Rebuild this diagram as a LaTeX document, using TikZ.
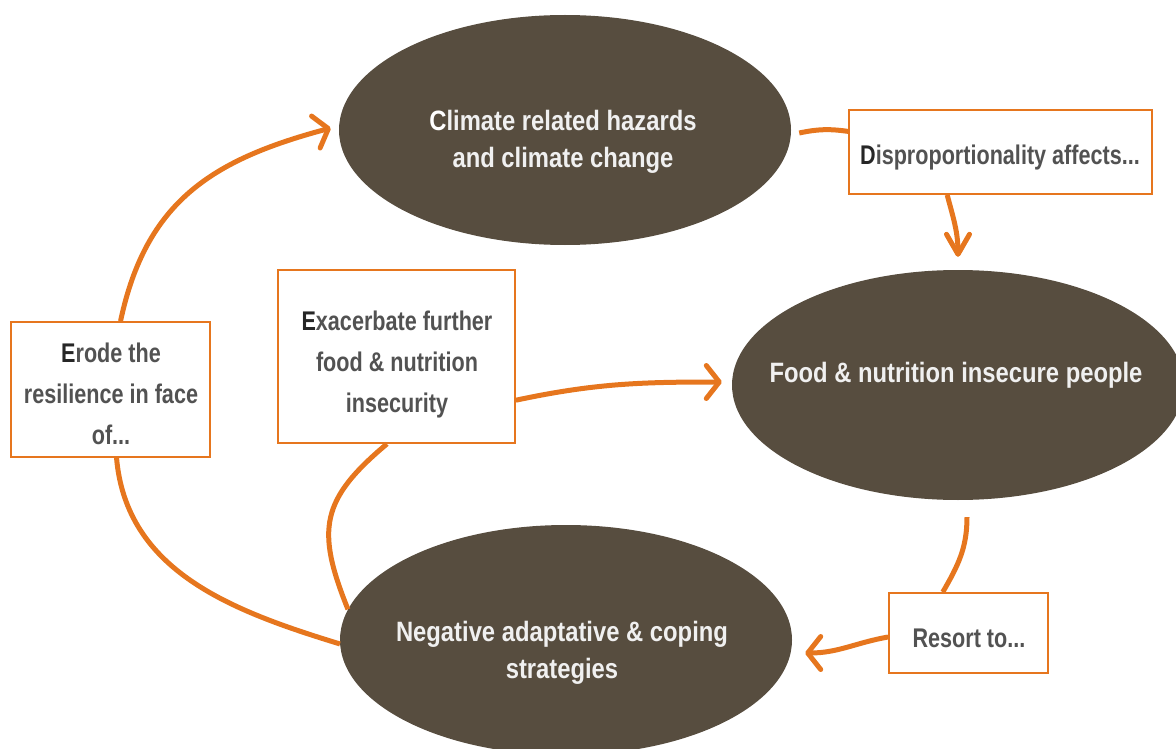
\documentclass[tikz,border=0pt]{standalone}
\usepackage{fontspec}
\setmainfont{Liberation Sans}
\newfontfamily\ovalfont{Liberation Sans}[FakeStretch=0.85]
\newfontfamily\boxfont{Liberation Sans}[FakeStretch=0.8]
\usetikzlibrary{shapes.geometric,arrows.meta,calc}

\definecolor{cycleorange}{RGB}{230,118,30}
\definecolor{earth}{RGB}{87,77,63}
\definecolor{boxtext}{RGB}{82,82,82}
\definecolor{boxinitial}{RGB}{38,38,38}
\definecolor{ovaltext}{RGB}{240,240,240}

\begin{document}
\begin{tikzpicture}[x=1pt,y=1pt,
  oval/.style={ellipse, fill=earth, minimum width=452pt, minimum height=230pt, inner sep=0pt},
  ovallabel/.style={text=ovaltext, font=\ovalfont\bfseries\fontsize{28}{37}\selectfont, align=center, inner sep=0pt},
  labelbox/.style={draw=cycleorange, line width=1.8pt, fill=white, inner sep=0pt},
  boxlabel/.style={text=boxtext, font=\boxfont\bfseries\fontsize{27}{41}\selectfont, align=center, inner sep=0pt},
  flow/.style={draw=cycleorange, line width=5pt},
  flowarrow/.style={flow, -{Straight Barb[length=13pt,width=33pt,round]}},
  droparrow/.style={flow, -{Straight Barb[length=20pt,width=23pt,round]}},
]
\useasboundingbox (0,0) rectangle (1176,-749);
\clip (0,0) rectangle (1176,-749);

% the three stages of the cycle
\node[oval] (climate) at (565,-130) {};
\node[oval] (food) at (958,-385) {};
\node[oval] (negative) at (566,-640) {};

\node[ovallabel] (climate-text) at (563,-142) {\textcolor{white}{C}limate related hazards\\and climate change};
\node[ovallabel] (food-text) at (956,-375) {Food \& nutrition insecure people};
\node[ovallabel] (negative-text) at (562,-653) {Negative adaptative \& coping\\strategies};

% the links between the stages
\node[labelbox, minimum width=199pt, minimum height=135pt] (erode) at (110.5,-389.5) {};
\node[labelbox, minimum width=237pt, minimum height=173pt] (exac) at (396.5,-356.5) {};
\node[labelbox, minimum width=303pt, minimum height=84pt] (disp) at (1000.5,-152) {};
\node[labelbox, minimum width=159pt, minimum height=80pt] (resort) at (968.5,-633) {};

\node[boxlabel] (erode-text) at (111,-394) {\textcolor{boxinitial}{E}rode the\\resilience in face\\of...};
\node[boxlabel] (exac-text) at (397,-365) {\textcolor{boxinitial}{E}xacerbate further\\food \& nutrition\\insecurity};
\node[boxlabel] (disp-text) at (1000,-158) {\textcolor{boxinitial}{D}isproportionality affects...};
\node[boxlabel] (resort-text) at (969,-638.5) {Resort to...};

% connectors
\draw[flow] ([xshift=8pt,yshift=-3pt]climate.east) to[bend left=10]
  ($(disp.north west)!0.26!(disp.south west)$);
\draw[droparrow] ($(disp.south west)!0.325!(disp.south east)$) to[out=-75,in=90]
  ([yshift=13pt]food.north);
\draw[flow] ([xshift=9pt,yshift=-17pt]food.south) to[out=-90,in=60]
  ($(resort.north west)!0.34!(resort.north east)$);
\draw[flowarrow] ([yshift=-4pt]resort.west) to[out=190,in=0]
  ([xshift=13pt,yshift=-13pt]negative.east);
\draw[flow] ($(erode.south west)!0.53!(erode.south east)$) to[out=-85,in=163]
  (negative.181);
\draw[flowarrow] ($(erode.north west)!0.55!(erode.north east)$) to[out=78,in=195,looseness=1.1]
  ([xshift=-8pt,yshift=2pt]climate.west);
\draw[flow] ($(exac.south west)!0.46!(exac.south east)$) to[out=-140,in=112,looseness=1.3]
  (negative.172);
\draw[flowarrow] ($(exac.south east)!0.25!(exac.north east)$) to[out=12,in=180]
  ([xshift=-10pt,yshift=3pt]food.west);
\end{tikzpicture}
\end{document}
